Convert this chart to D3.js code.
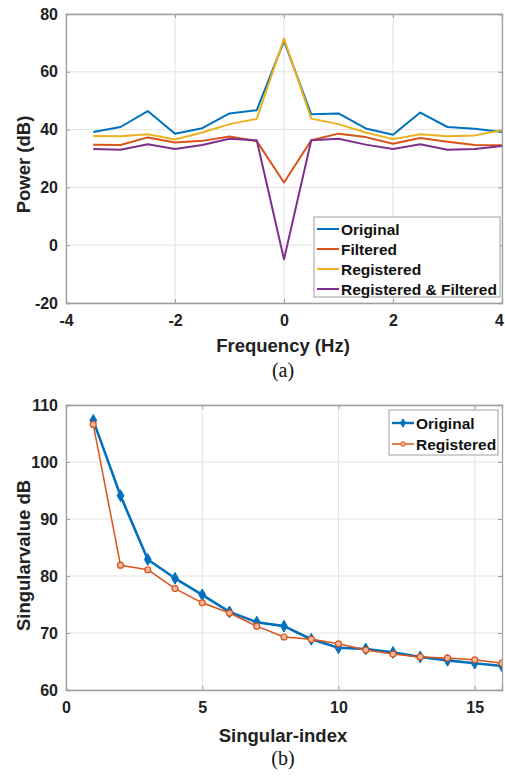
<!DOCTYPE html>
<html>
<head>
<meta charset="utf-8">
<script src="https://cdn.jsdelivr.net/npm/d3@7"></script>
<style>
  html, body { margin: 0; padding: 0; background: #fff; }
  svg { display: block; }
</style>
</head>
<body>
<svg id="chart" width="505" height="776"></svg>
<script>
// ---------- Data: chart (a) ----------
const freq = [-3.5, -3, -2.5, -2, -1.5, -1, -0.5, 0, 0.5, 1, 1.5, 2, 2.5, 3, 3.5, 4];
const original = [39.2, 40.9, 46.4, 38.6, 40.5, 45.6, 46.7, 70.6, 45.3, 45.6, 40.4, 38.2, 45.9, 40.9, 40.3, 39.2];
const filtered = [34.8, 34.7, 37.3, 35.5, 36.1, 37.6, 36.0, 21.7, 36.3, 38.6, 37.4, 35.1, 37.1, 35.8, 34.7, 34.6];
const registered = [37.8, 37.7, 38.4, 36.6, 39.0, 41.9, 43.7, 71.5, 43.8, 41.9, 39.0, 36.7, 38.4, 37.7, 38.0, 39.8];
const regFiltered = [33.3, 33.0, 34.9, 33.3, 34.7, 36.8, 36.3, -4.9, 36.3, 36.8, 34.8, 33.3, 34.9, 33.0, 33.3, 34.3];
const seriesA = ["Original", "Filtered", "Registered", "Registered & Filtered"];
const xTicksA = [-4, -2, 0, 2, 4];
const yTicksA = [-20, 0, 20, 40, 60, 80];

// ---------- Data: chart (b) ----------
const sIndex = [1, 2, 3, 4, 5, 6, 7, 8, 9, 10, 11, 12, 13, 14, 15, 16];
const svOriginal = [107.3, 94.1, 82.9, 79.6, 76.7, 73.7, 71.9, 71.2, 68.9, 67.4, 67.2, 66.6, 65.8, 65.2, 64.7, 64.2];
const svRegistered = [106.6, 81.9, 81.1, 77.8, 75.3, 73.5, 71.2, 69.3, 68.9, 68.1, 67.0, 66.3, 65.8, 65.6, 65.3, 64.7];
const seriesB = ["Original", "Registered"];
const xTicksB = [0, 5, 10, 15];
const yTicksB = [60, 70, 80, 90, 100, 110];

const colors = ["#0072BD", "#D95319", "#EDB120", "#7E2F8E"];
const textColor = "#222";
const axisColor = "#a0a0a0";
const gridColor = "#e3e3e3";
const font = "Liberation Sans, Arial, Helvetica, sans-serif";
const fmt = d => String(d);

const svg = d3.select("#chart");

function frame(g, x, y, xTicks, yTicks, w, h) {
  g.append("g").selectAll("line").data(xTicks).join("line")
    .attr("x1", d => x(d)).attr("x2", d => x(d)).attr("y1", 0).attr("y2", h)
    .attr("stroke", gridColor).attr("stroke-width", 1);
  g.append("g").selectAll("line").data(yTicks).join("line")
    .attr("x1", 0).attr("x2", w).attr("y1", d => y(d)).attr("y2", d => y(d))
    .attr("stroke", gridColor).attr("stroke-width", 1);
}

function axesOver(g, x, y, xTicks, yTicks, w, h) {
  const ax = g.append("g");
  const bottom = ax.append("g").attr("transform", `translate(0,${h})`)
    .call(d3.axisBottom(x).tickValues(xTicks).tickSize(-4).tickPadding(12).tickFormat(fmt));
  const top = ax.append("g")
    .call(d3.axisTop(x).tickValues(xTicks).tickSize(-4).tickFormat(""));
  const left = ax.append("g")
    .call(d3.axisLeft(y).tickValues(yTicks).tickSize(-4).tickPadding(8).tickFormat(fmt));
  const right = ax.append("g").attr("transform", `translate(${w},0)`)
    .call(d3.axisRight(y).tickValues(yTicks).tickSize(-4).tickFormat(""));
  [bottom, top, left, right].forEach(a => {
    a.select(".domain").attr("stroke", axisColor).attr("stroke-width", 1.3);
    a.selectAll(".tick line").attr("stroke", axisColor).attr("stroke-width", 1);
    a.selectAll(".tick text").attr("fill", textColor)
      .attr("font-family", font).attr("font-size", 16).attr("font-weight", "bold");
  });
  // keep the last x label inside the page
  bottom.selectAll(".tick text").filter(d => x(d) >= w - 1).attr("dx", -3);
  return {bottom, left};
}

// ================= Chart (a) =================
{
  const m = {left: 66, top: 14, w: 436, h: 289};
  const g = svg.append("g").attr("transform", `translate(${m.left},${m.top})`);
  const x = d3.scaleLinear().domain([-4, 4]).range([0, m.w]);
  const y = d3.scaleLinear().domain([-20, 80]).range([m.h, 0]);
  frame(g, x, y, xTicksA, yTicksA, m.w, m.h);

  const data = [original, filtered, registered, regFiltered];
  const line = d3.line().x((d, i) => x(freq[i])).y(d => y(d));
  g.append("g").selectAll("path").data(data).join("path")
    .attr("d", d => line(d))
    .attr("fill", "none")
    .attr("stroke", (d, i) => colors[i])
    .attr("stroke-width", 2)
    .attr("stroke-linejoin", "round");

  axesOver(g, x, y, xTicksA, yTicksA, m.w, m.h);

  // legend
  const lg = svg.append("g").attr("transform", "translate(314,217)");
  lg.append("rect").attr("width", 186).attr("height", 80)
    .attr("fill", "#fff").attr("stroke", "#a0a0a0").attr("stroke-width", 1);
  seriesA.forEach((s, i) => {
    const yy = 12 + i * 20;
    lg.append("line").attr("x1", 3).attr("x2", 25).attr("y1", yy).attr("y2", yy)
      .attr("stroke", colors[i]).attr("stroke-width", 2);
    lg.append("text").attr("x", 27).attr("y", yy).attr("dy", "0.36em")
      .attr("fill", "#111").attr("font-family", font).attr("font-size", 15.5)
      .attr("font-weight", "bold").text(s);
  });

  svg.append("text").attr("x", m.left + m.w / 2 - 1).attr("y", 351.5)
    .attr("text-anchor", "middle").attr("fill", textColor)
    .attr("font-family", font).attr("font-size", 18.5).attr("font-weight", "bold")
    .text("Frequency (Hz)");
  svg.append("text").attr("transform", `translate(29.5,${m.top + m.h / 2 + 6}) rotate(-90)`)
    .attr("text-anchor", "middle").attr("fill", textColor)
    .attr("font-family", font).attr("font-size", 18.5).attr("font-weight", "bold")
    .text("Power (dB)");
  svg.append("text").attr("x", 283).attr("y", 377)
    .attr("text-anchor", "middle").attr("fill", "#111")
    .attr("font-family", "Liberation Serif, Times New Roman, serif").attr("font-size", 20)
    .text("(a)");
}

// ================= Chart (b) =================
{
  const m = {left: 66, top: 405, w: 436, h: 285};
  const g = svg.append("g").attr("transform", `translate(${m.left},${m.top})`);
  const x = d3.scaleLinear().domain([0, 16]).range([0, m.w]);
  const y = d3.scaleLinear().domain([60, 110]).range([m.h, 0]);
  frame(g, x, y, xTicksB, yTicksB, m.w, m.h);

  const line = d3.line().x((d, i) => x(sIndex[i])).y(d => y(d));
  g.append("clipPath").attr("id", "clipb").append("rect")
    .attr("x", 0).attr("y", -10).attr("width", m.w).attr("height", m.h + 10);

  const pg = g.append("g").attr("clip-path", "url(#clipb)");
  pg.append("path").attr("d", line(svOriginal)).attr("fill", "none")
    .attr("stroke", colors[0]).attr("stroke-width", 2.6).attr("stroke-linejoin", "round");
  pg.append("g").selectAll("path").data(svOriginal).join("path")
    .attr("transform", (d, i) => `translate(${x(sIndex[i])},${y(d)})`)
    .attr("d", d3.symbol(d3.symbolDiamond, 40)())
    .attr("fill", colors[0]).attr("stroke", colors[0]).attr("stroke-width", 1);
  pg.append("path").attr("d", line(svRegistered)).attr("fill", "none")
    .attr("stroke", colors[1]).attr("stroke-width", 1.5).attr("stroke-linejoin", "round");
  pg.append("g").selectAll("circle").data(svRegistered).join("circle")
    .attr("cx", (d, i) => x(sIndex[i])).attr("cy", d => y(d)).attr("r", 3)
    .attr("fill", "#f3b79c").attr("stroke", colors[1]).attr("stroke-width", 1.2);

  axesOver(g, x, y, xTicksB, yTicksB, m.w, m.h);

  const lg = svg.append("g").attr("transform", "translate(389,410)");
  lg.append("rect").attr("width", 109).attr("height", 45)
    .attr("fill", "#fff").attr("stroke", "#a0a0a0").attr("stroke-width", 1);
  seriesB.forEach((s, i) => {
    const yy = 13 + i * 21;
    lg.append("line").attr("x1", 3).attr("x2", 25).attr("y1", yy).attr("y2", yy)
      .attr("stroke", colors[i]).attr("stroke-width", i === 0 ? 2.4 : 1.5);
    if (i === 0) {
      lg.append("path").attr("transform", `translate(14,${yy})`)
        .attr("d", d3.symbol(d3.symbolDiamond, 30)()).attr("fill", colors[0]);
    } else {
      lg.append("circle").attr("cx", 14).attr("cy", yy).attr("r", 2.3)
        .attr("fill", "#f3b79c").attr("stroke", colors[1]).attr("stroke-width", 1);
    }
    lg.append("text").attr("x", 27).attr("y", yy).attr("dy", "0.36em")
      .attr("fill", "#111").attr("font-family", font).attr("font-size", 15.5)
      .attr("font-weight", "bold").text(s);
  });

  svg.append("text").attr("x", m.left + m.w / 2 - 1).attr("y", 741.5)
    .attr("text-anchor", "middle").attr("fill", textColor)
    .attr("font-family", font).attr("font-size", 18.5).attr("font-weight", "bold")
    .text("Singular-index");
  svg.append("text").attr("transform", `translate(29.5,${m.top + m.h / 2 + 8}) rotate(-90)`)
    .attr("text-anchor", "middle").attr("fill", textColor)
    .attr("font-family", font).attr("font-size", 18.5).attr("font-weight", "bold")
    .text("Singularvalue dB");
  svg.append("text").attr("x", 283).attr("y", 765)
    .attr("text-anchor", "middle").attr("fill", "#111")
    .attr("font-family", "Liberation Serif, Times New Roman, serif").attr("font-size", 20)
    .text("(b)");
}
</script>
</body>
</html>
